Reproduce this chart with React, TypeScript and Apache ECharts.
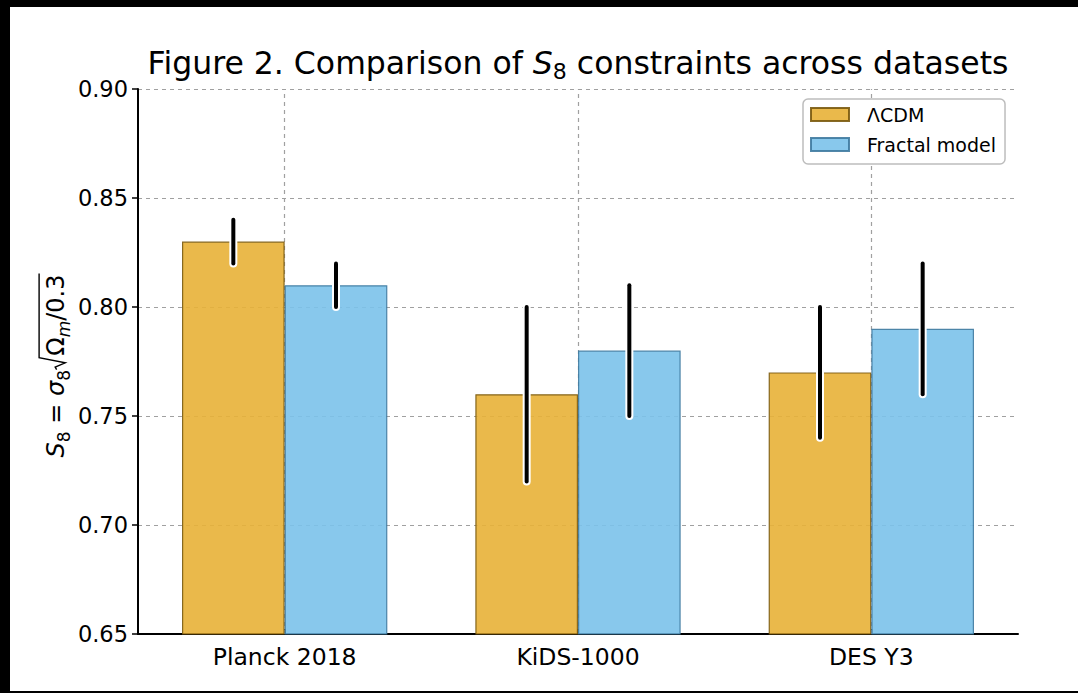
import React, { useEffect, useRef } from 'react';
import * as echarts from 'echarts';

const categories = ['Planck 2018', 'KiDS-1000', 'DES Y3'];
const seriesNames = ['ΛCDM', 'Fractal model'];
const lcdmValues = [0.83, 0.76, 0.77];
const lcdmErrors = [0.01, 0.04, 0.03];
const fractalValues = [0.81, 0.78, 0.79];
const fractalErrors = [0.01, 0.03, 0.03];
const yTicks = [0.65, 0.7, 0.75, 0.8, 0.85, 0.9];

const FONT = '"DejaVu Sans", "Noto Sans", sans-serif';
const BAR_FRAC = 0.35;

function measure(text: string, size: number, italic: boolean): number {
  const c = document.createElement('canvas').getContext('2d');
  if (!c) return text.length * size * 0.6;
  c.font = `${italic ? 'italic ' : ''}${size}px "DejaVu Sans"`;
  return c.measureText(text).width;
}

function buildYLabel(cx: number, cy: number) {
  const f = 24;
  const s = 17;
  const b = 0.346 * f; // baseline in local coordinates (middle = 0)
  const subY = b + 0.22 * f - 0.346 * s;
  type Piece = { t: string; size: number; italic: boolean; y: number } | { radical: true };
  const pieces: Piece[] = [
    { t: 'S', size: f, italic: true, y: 0 },
    { t: '8', size: s, italic: false, y: subY },
    { t: ' = ', size: f, italic: false, y: 0 },
    { t: 'σ', size: f, italic: true, y: 0 },
    { t: '8', size: s, italic: false, y: subY },
    { radical: true },
    { t: 'Ω', size: f, italic: false, y: 0 },
    { t: 'm', size: s, italic: true, y: subY },
    { t: '/0.3', size: f, italic: false, y: 0 },
  ];
  const radW = 0.6 * f;
  let total = 0;
  const widths = pieces.map((p) => {
    const w = 'radical' in p ? radW : measure(p.t, p.size, p.italic);
    total += w;
    return w;
  });
  let x = -total / 2;
  const children: any[] = [];
  let radStart = 0;
  pieces.forEach((p, i) => {
    if ('radical' in p) {
      radStart = x;
    } else {
      children.push({
        type: 'text',
        x,
        y: p.y,
        style: {
          text: p.t,
          fontSize: p.size,
          fontFamily: FONT,
          fontStyle: p.italic ? 'italic' : 'normal',
          fill: '#000',
          align: 'left',
          verticalAlign: 'middle',
        },
      });
    }
    x += widths[i];
  });
  const top = b - 1.05 * f;
  children.push({
    type: 'polyline',
    shape: {
      points: [
        [radStart + 0.02 * f, b - 0.32 * f],
        [radStart + 0.12 * f, b - 0.38 * f],
        [radStart + 0.3 * f, b + 0.04 * f],
        [radStart + 0.52 * f, top],
        [x + 1, top],
      ],
    },
    style: { stroke: '#000', lineWidth: 1.4, fill: 'none' },
  });
  return { type: 'group', x: cx, y: cy, rotation: Math.PI / 2, children };
}

function errorSeries(name: string, values: number[], errors: number[], side: number) {
  return {
    type: 'custom',
    name,
    silent: true,
    z: 10,
    data: values.map((v, i) => [i, v - errors[i], v + errors[i]]),
    encode: { x: 0, y: [1, 2] },
    renderItem: (params: any, api: any) => {
      const idx = api.value(0);
      const lo = api.coord([idx, api.value(1)]);
      const hi = api.coord([idx, api.value(2)]);
      const band = api.size([1, 0])[0];
      const xPos = lo[0] + (side * band * BAR_FRAC) / 2;
      const shape = { x1: xPos, y1: lo[1], x2: xPos, y2: hi[1] };
      return {
        type: 'group',
        children: [
          { type: 'line', shape, style: { stroke: '#ffffff', lineWidth: 8, lineCap: 'round' } },
          { type: 'line', shape, style: { stroke: '#000000', lineWidth: 4, lineCap: 'round' } },
        ],
      };
    },
  };
}

export default function App() {
  const ref = useRef<HTMLDivElement>(null);

  useEffect(() => {
    if (!ref.current) return;
    const chart = echarts.init(ref.current, null, { renderer: 'svg' });
    const gridStyle = { type: [4, 4] as any, color: '#a0a0a0', width: 1.2 };
    const option: any = {
      animation: false,
      backgroundColor: '#ffffff',
      grid: { left: 138, right: 60, top: 89, bottom: 59, containLabel: false },
      legend: {
        data: seriesNames,
        orient: 'vertical',
        left: 803,
        top: 99,
        icon: 'rect',
        itemWidth: 38,
        itemHeight: 13,
        itemGap: 11,
        padding: [6, 9, 10, 7],
        backgroundColor: '#ffffff',
        borderColor: '#bdbdbd',
        borderWidth: 1.5,
        borderRadius: 5,
        textStyle: { fontSize: 19, fontFamily: FONT, color: '#000', padding: [0, 0, 0, 13] },
      },
      xAxis: {
        type: 'category',
        data: categories,
        axisLine: { show: true, lineStyle: { color: '#000', width: 2 } },
        axisTick: { show: true, inside: true, length: 5, alignWithLabel: true, lineStyle: { color: '#000', width: 1.5 } },
        axisLabel: { fontSize: 23.5, fontFamily: FONT, color: '#000', margin: 11 },
        splitLine: { show: false },
      },
      yAxis: {
        type: 'value',
        min: yTicks[0],
        max: yTicks[yTicks.length - 1],
        interval: 0.05,
        axisLine: { show: true, lineStyle: { color: '#000', width: 2 } },
        axisTick: { show: true, length: 6, lineStyle: { color: '#000', width: 1.5 } },
        axisLabel: {
          fontSize: 22.5,
          fontFamily: FONT,
          color: '#000',
          margin: 10,
          formatter: (v: number) => v.toFixed(2),
        },
        splitLine: { show: true, lineStyle: gridStyle },
      },
      series: [
        {
          type: 'line',
          name: 'grid',
          data: categories.map(() => '-'),
          showSymbol: false,
          silent: true,
          lineStyle: { opacity: 0 },
          z: 1,
          markLine: {
            silent: true,
            symbol: 'none',
            z: 1,
            label: { show: false },
            lineStyle: gridStyle,
            data: categories.map((c) => ({ xAxis: c })),
          },
        },
        {
          type: 'bar',
          name: seriesNames[0],
          data: lcdmValues,
          barWidth: `${BAR_FRAC * 100}%`,
          barGap: '0%',
          z: 2,
          itemStyle: { color: '#E8B137', borderColor: '#7a5a10', borderWidth: 1.2, opacity: 0.9 },
        },
        {
          type: 'bar',
          name: seriesNames[1],
          data: fractalValues,
          barWidth: `${BAR_FRAC * 100}%`,
          barGap: '0%',
          z: 2,
          itemStyle: { color: '#7BC2EA', borderColor: '#3f7aa0', borderWidth: 1.2, opacity: 0.9 },
        },
        errorSeries('ΛCDM error', lcdmValues, lcdmErrors, -1),
        errorSeries('Fractal error', fractalValues, fractalErrors, 1),
      ],
      graphic: [
        { type: 'rect', shape: { x: 0, y: 0, width: 10, height: 693 }, style: { fill: '#000' }, z: 100 },
        { type: 'rect', shape: { x: 0, y: 0, width: 1078, height: 7 }, style: { fill: '#000' }, z: 100 },
        { type: 'rect', shape: { x: 0, y: 691, width: 1078, height: 2 }, style: { fill: '#000' }, z: 100 },
        {
          type: 'text',
          x: 578,
          y: 63,
          z: 100,
          style: {
            text: '{n|Figure 2. Comparison of }{i|S}{s|8}{n| constraints across datasets}',
            align: 'center',
            verticalAlign: 'middle',
            rich: {
              n: { fontSize: 31.5, fontFamily: FONT, fill: '#000', lineHeight: 38 },
              i: { fontSize: 31.5, fontFamily: FONT, fontStyle: 'italic', fill: '#000', lineHeight: 38 },
              s: { fontSize: 22, fontFamily: FONT, fill: '#000', lineHeight: 22, verticalAlign: 'bottom' },
            },
          },
        },
        { ...buildYLabel(56, 366), z: 100 },
      ],
    };
    chart.setOption(option);
    return () => chart.dispose();
  }, []);

  return (
    <div
      ref={ref}
      style={{ position: 'absolute', left: 0, top: 0, width: 1078, height: 693, background: '#fff' }}
    />
  );
}
